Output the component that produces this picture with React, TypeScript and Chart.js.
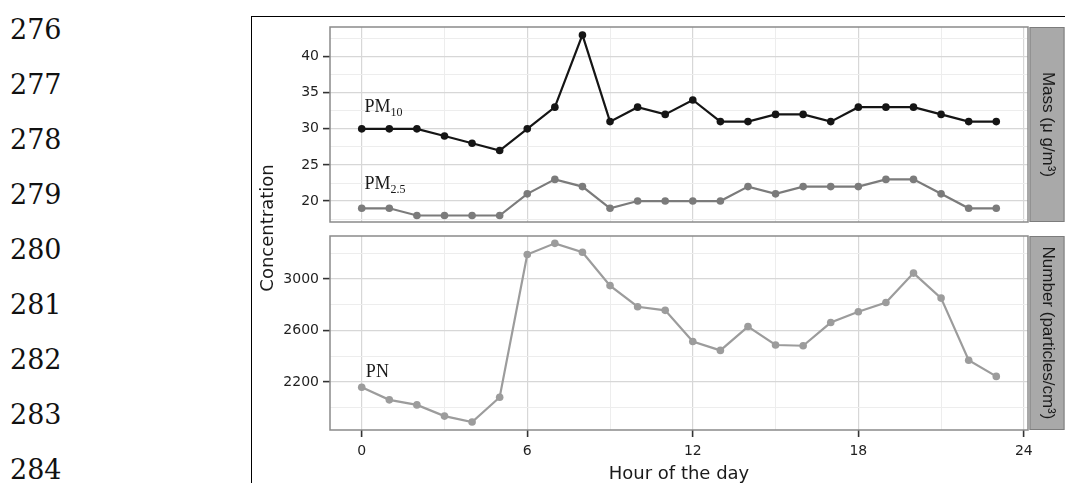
import React, { useEffect, useRef } from "react";
import { Chart, registerables } from "chart.js";

Chart.register(...registerables);

// ---------- data ----------
const hours = [0, 1, 2, 3, 4, 5, 6, 7, 8, 9, 10, 11, 12, 13, 14, 15, 16, 17, 18, 19, 20, 21, 22, 23];
const pm10 = [30, 30, 30, 29, 28, 27, 30, 33, 43, 31, 33, 32, 34, 31, 31, 32, 32, 31, 33, 33, 33, 32, 31, 31];
const pm25 = [19, 19, 18, 18, 18, 18, 21, 23, 22, 19, 20, 20, 20, 20, 22, 21, 22, 22, 22, 23, 23, 21, 19, 19];
const pn = [2160, 2062, 2023, 1936, 1890, 2082, 3190, 3277, 3208, 2949, 2785, 2757, 2515, 2446, 2631, 2488, 2482, 2662, 2746, 2818, 3046, 2852, 2369, 2244];

const hourTicks = [0, 6, 12, 18, 24];
const massTicks = [20, 25, 30, 35, 40];
const numberTicks = [2200, 2600, 3000];
const lineNumbers = ["276", "277", "278", "279", "280", "281", "282", "283", "284"];

const massStrip = "Mass (\u03bc g/m\u00b3)";
const numberStrip = "Number (particles/cm\u00b3)";
const yTitle = "Concentration";
const xTitle = "Hour of the day";

const massLabels = [
  { text: "PM", sub: "10", x: 0.1, y: 32.35 },
  { text: "PM", sub: "2.5", x: 0.1, y: 21.7 },
];
const numberLabels = [{ text: "PN", sub: "", x: 0.15, y: 2236 }];

// ---------- styling helpers ----------
const MAJOR = "#d7d7d7";
const MINOR = "#ededed";
const TICK_FONT = { family: "DejaVu Sans", size: 14 };
const TICK_COLOR = "#1f1f1f";

function isMajor(list: number[], c: any) {
  return c && c.tick && list.some((v) => Math.abs(v - c.tick.value) < 1e-6);
}

function gridFor(list: number[], drawTicks: boolean) {
  return {
    color: (c: any) => (isMajor(list, c) ? MAJOR : MINOR),
    lineWidth: (c: any) => (isMajor(list, c) ? 1.2 : 1),
    drawTicks,
    tickLength: 7,
    tickWidth: 1.6,
    tickColor: (c: any) => (isMajor(list, c) ? "#333333" : "rgba(0,0,0,0)"),
  };
}

function panelPlugin(id: string, stripText: string, labels: any[]) {
  return {
    id,
    afterDatasetsDraw(chart: any) {
      const { ctx } = chart;
      const xs = chart.scales.x;
      const ys = chart.scales.y;
      ctx.save();
      ctx.fillStyle = "#1a1a1a";
      ctx.textAlign = "left";
      ctx.textBaseline = "alphabetic";
      for (const a of labels) {
        const px = xs.getPixelForValue(a.x);
        const py = ys.getPixelForValue(a.y);
        ctx.font = '18px "Liberation Serif"';
        ctx.fillText(a.text, px, py);
        if (a.sub) {
          const w = ctx.measureText(a.text).width;
          ctx.font = '12px "Liberation Serif"';
          ctx.fillText(a.sub, px + w, py + 4);
        }
      }
      ctx.restore();
    },
    afterDraw(chart: any) {
      const { ctx, chartArea: ca } = chart;
      ctx.save();
      ctx.strokeStyle = "#8a8a8a";
      ctx.lineWidth = 1.5;
      ctx.strokeRect(ca.left, ca.top, ca.right - ca.left, ca.bottom - ca.top);
      const sx = ca.right + 1.5;
      const sw = 35;
      ctx.fillStyle = "#a9a9a9";
      ctx.fillRect(sx, ca.top, sw, ca.bottom - ca.top);
      ctx.strokeStyle = "#7c7c7c";
      ctx.lineWidth = 1;
      ctx.strokeRect(sx + 0.5, ca.top + 0.5, sw - 1, ca.bottom - ca.top - 1);
      ctx.translate(sx + sw / 2 + 1, (ca.top + ca.bottom) / 2);
      ctx.rotate(Math.PI / 2);
      ctx.font = '17px "Liberation Sans"';
      ctx.textAlign = "center";
      ctx.textBaseline = "middle";
      ctx.fillStyle = "#1a1a1a";
      ctx.fillText(stripText, 0, 0);
      ctx.restore();
    },
  };
}

function series(values: number[], color: string) {
  return {
    data: hours.map((h, i) => ({ x: h, y: values[i] })),
    borderColor: color,
    backgroundColor: color,
    pointBackgroundColor: color,
    pointBorderWidth: 0,
    pointRadius: 3.8,
    borderWidth: 2.2,
    tension: 0,
  };
}

const W = 813;
const TOP_H = 215;
const BOT_H = 251;

export default function App() {
  const topRef = useRef<HTMLCanvasElement>(null);
  const botRef = useRef<HTMLCanvasElement>(null);

  useEffect(() => {
    const common = {
      responsive: false,
      maintainAspectRatio: false,
      animation: false as const,
      devicePixelRatio: 1,
      plugins: { legend: { display: false }, tooltip: { enabled: false } },
    };

    const top = new Chart(topRef.current as HTMLCanvasElement, {
      type: "line",
      data: { datasets: [series(pm25, "#7b7b7b"), series(pm10, "#151515")] as any },
      options: {
        ...common,
        layout: { padding: { left: 0, top: 10, right: 37, bottom: 0 } },
        scales: {
          x: {
            type: "linear",
            min: -1.15,
            max: 24.15,
            ticks: { display: false, stepSize: 3, includeBounds: false },
            grid: gridFor(hourTicks, false),
            border: { display: false },
            afterFit: (s: any) => {
              s.height = 10;
              s.paddingLeft = 0;
              s.paddingRight = 0;
            },
          },
          y: {
            type: "linear",
            min: 17.1,
            max: 44.1,
            ticks: {
              stepSize: 2.5,
              includeBounds: false,
              autoSkip: false,
              padding: 4,
              color: TICK_COLOR,
              font: TICK_FONT,
              callback: (v: any) => (massTicks.includes(Number(v)) ? String(v) : ""),
            },
            grid: gridFor(massTicks, true),
            border: { display: false },
            afterFit: (s: any) => {
              s.width = 78;
              s.paddingTop = 0;
              s.paddingBottom = 0;
            },
          },
        },
      } as any,
      plugins: [panelPlugin("massPanel", massStrip, massLabels)],
    });

    const bot = new Chart(botRef.current as HTMLCanvasElement, {
      type: "line",
      data: { datasets: [series(pn, "#9c9c9c")] as any },
      options: {
        ...common,
        layout: { padding: { left: 0, top: 2, right: 37, bottom: 0 } },
        scales: {
          x: {
            type: "linear",
            min: -1.15,
            max: 24.15,
            ticks: {
              stepSize: 3,
              includeBounds: false,
              autoSkip: false,
              maxRotation: 0,
              padding: 6,
              color: TICK_COLOR,
              font: TICK_FONT,
              callback: (v: any) => (hourTicks.includes(Number(v)) ? String(v) : ""),
            },
            grid: gridFor(hourTicks, true),
            border: { display: false },
            title: {
              display: true,
              text: xTitle,
              color: "#1a1a1a",
              font: { family: "DejaVu Sans", size: 18, lineHeight: 1 },
              padding: 0,
            },
            afterFit: (s: any) => {
              s.height = 53;
              s.paddingLeft = 0;
              s.paddingRight = 0;
            },
          },
          y: {
            type: "linear",
            min: 1828,
            max: 3334,
            ticks: {
              stepSize: 200,
              includeBounds: false,
              autoSkip: false,
              padding: 4,
              color: TICK_COLOR,
              font: TICK_FONT,
              callback: (v: any) => (numberTicks.includes(Number(v)) ? String(v) : ""),
            },
            grid: gridFor(numberTicks, true),
            border: { display: false },
            afterFit: (s: any) => {
              s.width = 78;
              s.paddingTop = 0;
              s.paddingBottom = 0;
            },
          },
        },
      } as any,
      plugins: [panelPlugin("numberPanel", numberStrip, numberLabels)],
    });

    return () => {
      top.destroy();
      bot.destroy();
    };
  }, []);

  return (
    <div style={{ position: "absolute", left: 0, top: 0, width: 1065, height: 483, background: "#fff", overflow: "hidden" }}>
      {lineNumbers.map((n, i) => (
        <div
          key={n}
          style={{
            position: "absolute",
            left: 10,
            top: 15.5 + i * 55.1,
            font: '27px "DejaVu Serif"',
            lineHeight: "27px",
            color: "#111",
          }}
        >
          {n}
        </div>
      ))}
      <div
        style={{
          position: "absolute",
          left: 251,
          top: 16,
          width: 830,
          height: 480,
          borderLeft: "1.5px solid #000",
          borderTop: "1.5px solid #000",
        }}
      />
      <canvas ref={topRef} width={W} height={TOP_H} style={{ position: "absolute", left: 252, top: 17, width: W, height: TOP_H }} />
      <canvas ref={botRef} width={W} height={BOT_H} style={{ position: "absolute", left: 252, top: 232, width: W, height: BOT_H }} />
      <div
        style={{
          position: "absolute",
          left: 265.5 - 100,
          top: 228 - 10,
          width: 200,
          height: 20,
          lineHeight: "20px",
          textAlign: "center",
          font: '18px "DejaVu Sans"',
          color: "#1a1a1a",
          transform: "rotate(-90deg)",
        }}
      >
        {yTitle}
      </div>
    </div>
  );
}
